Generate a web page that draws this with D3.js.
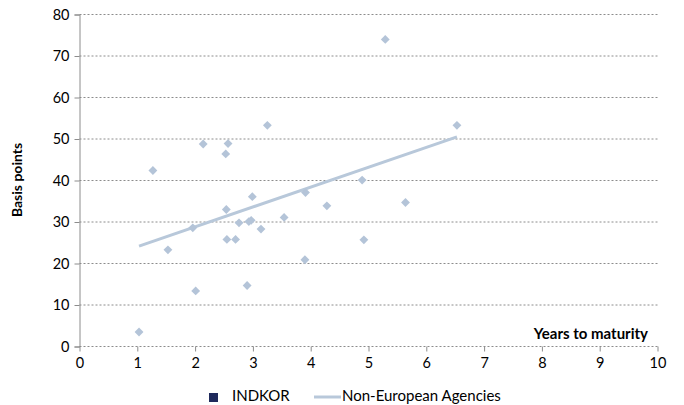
<!DOCTYPE html>
<html><head><meta charset="utf-8">
<script src="https://cdn.jsdelivr.net/npm/d3@7"></script>
<style>body{margin:0;background:#fff}svg{display:block;font-family:Lato,"Liberation Sans",sans-serif}</style>
</head><body><svg id="c" width="684" height="405"></svg>
<script>
const maturities = [1.03,1.27,1.53,1.96,2.01,2.14,2.53,2.57,2.54,2.55,2.70,2.76,2.90,2.93,2.97,2.99,3.14,3.25,3.54,3.91,3.90,4.28,4.89,4.92,5.29,5.64,6.53];
const spreads    = [3.5,42.4,23.3,28.6,13.4,48.8,46.4,48.9,33.0,25.8,25.8,29.8,14.7,30.1,30.4,36.1,28.3,53.3,31.1,37.1,20.9,33.9,40.1,25.7,74.0,34.7,53.3];
const trendX = [1.03, 6.53];
const trendY = [24.2, 50.5];
const xTicks = [0,1,2,3,4,5,6,7,8,9,10];
const yTicks = [0,10,20,30,40,50,60,70,80];
const seriesNames = ["INDKOR","Non-European Agencies"];

const svg = d3.select("#c");
const x = d3.scaleLinear().domain([0,10]).range([79.5,657.5]);
const y = d3.scaleLinear().domain([0,80]).range([346.5,14.5]);
const markColor = "#b4c4d8";

svg.append("g").selectAll("line").data(yTicks).join("line")
  .attr("x1",x(0)).attr("x2",x(10)).attr("y1",d=>y(d)).attr("y2",d=>y(d))
  .attr("stroke","#8c8c8c").attr("stroke-width",1).attr("stroke-dasharray","2,2");

const yAxis = d3.axisLeft(y).tickValues(yTicks).tickSize(5).tickPadding(5);
const gy = svg.append("g").attr("transform",`translate(${x(0)},0)`).call(yAxis);
gy.select(".domain").attr("stroke","#8c8c8c");
gy.selectAll(".tick line").attr("stroke","#8c8c8c");
gy.selectAll("text").attr("font-size",14.5).attr("fill","#000").attr("font-family","Lato");

const xAxis = d3.axisBottom(x).tickValues(xTicks).tickSize(5).tickPadding(6);
const gx = svg.append("g").attr("transform",`translate(0,${y(0)})`).call(xAxis);
gx.select(".domain").remove();
gx.selectAll(".tick line").attr("stroke","#8c8c8c");
gx.selectAll("text").attr("font-size",14.5).attr("fill","#000").attr("font-family","Lato");

const pts = trendX.map((d,i)=>[d,trendY[i]]);
svg.append("path").datum(pts)
  .attr("d",d3.line().x(d=>x(d[0])).y(d=>y(d[1])))
  .attr("stroke","#b8c8da").attr("stroke-width",3).attr("fill","none");

const data = maturities.map((d,i)=>({m:d,s:spreads[i]}));
svg.append("g").selectAll("path").data(data).join("path")
  .attr("transform",d=>`translate(${x(d.m)},${y(d.s)})`)
  .attr("d",d3.symbol().type(d3.symbolDiamond2).size(50))
  .attr("fill",markColor);

svg.append("text").attr("transform","translate(22,180) rotate(-90)")
  .attr("text-anchor","middle").attr("font-weight","bold").attr("font-size",14)
  .attr("font-family","Lato").text("Basis points");
svg.append("text").attr("x",648).attr("y",339)
  .attr("text-anchor","end").attr("font-weight","bold").attr("font-size",15)
  .attr("font-family","Lato").text("Years to maturity");

const lg = svg.append("g");
lg.append("rect").attr("x",209).attr("y",393).attr("width",9).attr("height",9).attr("fill","#1f2a5c");
lg.append("text").attr("x",232).attr("y",401).attr("font-size",15).attr("font-family","Lato").text(seriesNames[0]);
lg.append("line").attr("x1",314).attr("x2",341).attr("y1",397).attr("y2",397).attr("stroke","#b8c8da").attr("stroke-width",3);
lg.append("text").attr("x",342).attr("y",401).attr("font-size",15).attr("font-family","Lato").text(seriesNames[1]);
</script></body></html>
